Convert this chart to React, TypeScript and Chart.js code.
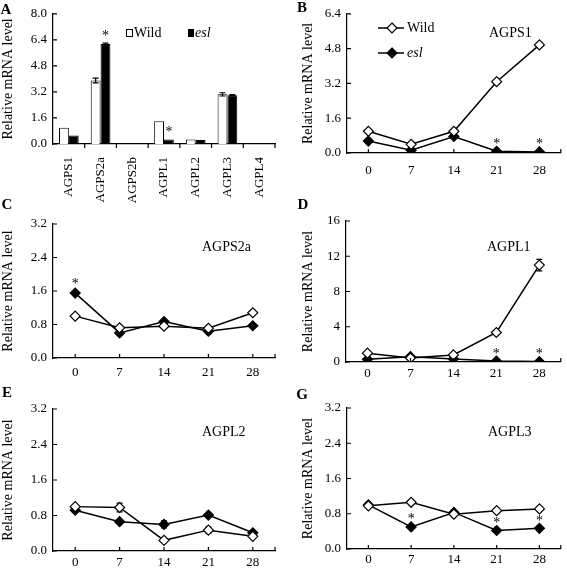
import React, { useEffect, useRef } from "react";
import { Chart, registerables } from "chart.js";
Chart.register(...registerables);

const W = 567;
const H = 569;
const FONT = "'Liberation Serif', 'Times New Roman', serif";

// ---------- Data ----------
// Panel A (bar chart, gene expression)
const genesA = ["AGPS1", "AGPS2a", "AGPS2b", "AGPL1", "AGPL2", "AGPL3", "AGPL4"];
const wildA = [1.0, 3.9, 0, 1.4, 0.28, 3.05, 0];
const eslA = [0.52, 6.15, 0, 0.27, 0.25, 3.0, 0];
const wildErrA = [0, 0.15, 0, 0, 0, 0.1, 0];
const eslErrA = [0, 0.05, 0, 0, 0, 0.03, 0];
const starsA = [1, 3];
const yTicksA = [0, 1.6, 3.2, 4.8, 6.4, 8.0];

// Time course (days)
const days = ["0", "7", "14", "21", "28"];

// Panel B: AGPS1
const wildB = [1.0, 0.4, 1.0, 3.28, 4.97];
const eslB = [0.55, 0.13, 0.76, 0.08, 0.05];
const wildErrB = [0, 0, 0, 0, 0.08];
const eslErrB = [0, 0, 0, 0, 0];
const starsB = [3, 4];
const yTicksB = [0, 1.6, 3.2, 4.8, 6.4];

// Panel C: AGPS2a
const wildC = [1.0, 0.72, 0.76, 0.71, 1.08];
const eslC = [1.55, 0.6, 0.87, 0.64, 0.77];
const wildErrC = [0, 0, 0, 0, 0];
const eslErrC = [0.03, 0, 0, 0.06, 0];
const starsC = [0];
const yTicksC = [0, 0.8, 1.6, 2.4, 3.2];

// Panel D: AGPL1
const wildD = [1.0, 0.45, 0.8, 3.35, 11.0];
const eslD = [0.3, 0.6, 0.35, 0.1, 0.05];
const wildErrD = [0, 0, 0, 0, 0.65];
const eslErrD = [0, 0, 0, 0, 0];
const starsD = [3, 4];
const yTicksD = [0, 4, 8, 12, 16];

// Panel E: AGPL2
const wildE = [1.0, 0.98, 0.24, 0.47, 0.33];
const eslE = [0.92, 0.66, 0.6, 0.81, 0.41];
const wildErrE = [0, 0.1, 0, 0.07, 0.04];
const eslErrE = [0, 0, 0.08, 0.03, 0.02];
const starsE: number[] = [];
const yTicksE = [0, 0.8, 1.6, 2.4, 3.2];

// Panel G: AGPL3
const wildG = [0.98, 1.06, 0.79, 0.87, 0.91];
const eslG = [1.0, 0.5, 0.83, 0.42, 0.47];
const wildErrG = [0, 0, 0, 0.05, 0.02];
const eslErrG = [0, 0, 0, 0, 0];
const starsG = [1, 3, 4];
const yTicksG = [0, 0.8, 1.6, 2.4, 3.2];

// ---------- Layout ----------
type Panel = {
  kind: "bar" | "line";
  letter: string;
  letterPos: [number, number];
  title?: string;
  titlePos?: [number, number];
  legend?: "bar" | "line";
  labels: string[];
  wild: number[];
  esl: number[];
  wildErr: number[];
  eslErr: number[];
  stars: number[];
  yTicks: number[];
  decimals: number;
  padL: number;
  chartL: number;
  chartR: number;
  chartT: number;
  chartB: number;
  xAxisH: number;
  xPad: number;
};

const panels: Panel[] = [
  {
    kind: "bar", letter: "A", letterPos: [6, 10], legend: "bar",
    labels: genesA, wild: wildA, esl: eslA, wildErr: wildErrA, eslErr: eslErrA, stars: starsA,
    yTicks: yTicksA, decimals: 1,
    padL: 0, chartL: 53, chartR: 275, chartT: 13, chartB: 144, xAxisH: 62, xPad: 13,
  },
  {
    kind: "line", letter: "B", letterPos: [302, 8], legend: "line", title: "AGPS1", titlePos: [489, 33],
    labels: days, wild: wildB, esl: eslB, wildErr: wildErrB, eslErr: eslErrB, stars: starsB,
    yTicks: yTicksB, decimals: 1,
    padL: 300, chartL: 347, chartR: 565, chartT: 10, chartB: 153, xAxisH: 35, xPad: 10,
  },
  {
    kind: "line", letter: "C", letterPos: [7, 205], title: "AGPS2a", titlePos: [202, 247],
    labels: days, wild: wildC, esl: eslC, wildErr: wildErrC, eslErr: eslErrC, stars: starsC,
    yTicks: yTicksC, decimals: 1,
    padL: 0, chartL: 53, chartR: 275, chartT: 224, chartB: 358, xAxisH: 32, xPad: 7,
  },
  {
    kind: "line", letter: "D", letterPos: [303, 205], title: "AGPL1", titlePos: [487, 247],
    labels: days, wild: wildD, esl: eslD, wildErr: wildErrD, eslErr: eslErrD, stars: starsD,
    yTicks: yTicksD, decimals: 0,
    padL: 300, chartL: 346, chartR: 565, chartT: 221, chartB: 362, xAxisH: 28, xPad: 4,
  },
  {
    kind: "line", letter: "E", letterPos: [7, 393], title: "AGPL2", titlePos: [202, 432],
    labels: days, wild: wildE, esl: eslE, wildErr: wildErrE, eslErr: eslErrE, stars: starsE,
    yTicks: yTicksE, decimals: 1,
    padL: 0, chartL: 53, chartR: 275, chartT: 409, chartB: 551, xAxisH: 18, xPad: 4,
  },
  {
    kind: "line", letter: "G", letterPos: [302, 395], title: "AGPL3", titlePos: [488, 432],
    labels: days, wild: wildG, esl: eslG, wildErr: wildErrG, eslErr: eslErrG, stars: starsG,
    yTicks: yTicksG, decimals: 1,
    padL: 300, chartL: 347, chartR: 565, chartT: 408, chartB: 549, xAxisH: 20, xPad: 3,
  },
];

function diamond(ctx: CanvasRenderingContext2D, x: number, y: number, r: number, filled: boolean) {
  ctx.beginPath();
  ctx.moveTo(x, y - r);
  ctx.lineTo(x + r, y);
  ctx.lineTo(x, y + r);
  ctx.lineTo(x - r, y);
  ctx.closePath();
  ctx.fillStyle = filled ? "#000" : "#fff";
  ctx.fill();
  ctx.stroke();
}

function makeOverlay(p: Panel) {
  const drawErrors = (chart: any) => {
    const ctx = chart.ctx as CanvasRenderingContext2D;
    const ys = chart.scales.y;
    ctx.save();
    ctx.strokeStyle = "#000";
    ctx.lineWidth = 1.2;
    const series: [number[], number[]][] = [[p.wild, p.wildErr], [p.esl, p.eslErr]];
    series.forEach(([vals, errs], d) => {
      const meta = chart.getDatasetMeta(d);
      vals.forEach((v, i) => {
        const e = errs[i];
        if (!e) return;
        const x = meta.data[i].x;
        const y1 = ys.getPixelForValue(v + e);
        const y2 = ys.getPixelForValue(Math.max(0, v - e));
        ctx.beginPath();
        ctx.moveTo(x, y1); ctx.lineTo(x, y2);
        ctx.moveTo(x - 3, y1); ctx.lineTo(x + 3, y1);
        ctx.moveTo(x - 3, y2); ctx.lineTo(x + 3, y2);
        ctx.stroke();
      });
    });
    ctx.restore();
  };
  return {
    id: "overlay" + p.letter,
    beforeDatasetsDraw(chart: any) {
      if (p.kind === "line") drawErrors(chart);
    },
    afterDatasetsDraw(chart: any) {
      if (p.kind === "bar") drawErrors(chart);
    },
    afterDraw(chart: any) {
      const ctx = chart.ctx as CanvasRenderingContext2D;
      const { left, right, bottom } = chart.chartArea;
      const xs = chart.scales.x;
      const ys = chart.scales.y;
      ctx.save();
      ctx.strokeStyle = "#000";
      ctx.fillStyle = "#000";
      ctx.lineWidth = 1.2;
      // inward tick marks
      ctx.beginPath();
      for (const v of p.yTicks) {
        const y = ys.getPixelForValue(v);
        ctx.moveTo(left, y);
        ctx.lineTo(left + 4, y);
      }
      const n = p.labels.length;
      if (p.kind === "bar") {
        for (let i = 1; i <= n; i++) {
          const x = left + ((right - left) * i) / n;
          ctx.moveTo(x, bottom);
          ctx.lineTo(x, bottom + 4);
        }
      } else {
        for (let i = 0; i < n; i++) {
          const x = xs.getPixelForValue(i);
          ctx.moveTo(x, bottom);
          ctx.lineTo(x, bottom - 4);
        }
        ctx.moveTo(right, bottom);
        ctx.lineTo(right, bottom - 4);
      }
      ctx.stroke();

      // significance stars
      ctx.font = `14px ${FONT}`;
      ctx.textAlign = "center";
      ctx.textBaseline = "alphabetic";
      const meta = chart.getDatasetMeta(1);
      for (const i of p.stars) {
        const x = meta.data[i].x;
        const yTop = ys.getPixelForValue(p.esl[i] + p.eslErr[i]);
        ctx.fillText("*", x, yTop - 10 + 6.5);
      }

      // panel letter
      ctx.font = `bold 15px ${FONT}`;
      ctx.textAlign = "center";
      ctx.textBaseline = "middle";
      ctx.fillText(p.letter, p.letterPos[0], p.letterPos[1]);

      // gene title
      if (p.title && p.titlePos) {
        ctx.font = `14px ${FONT}`;
        ctx.textAlign = "left";
        ctx.fillText(p.title, p.titlePos[0], p.titlePos[1]);
      }

      // legends
      if (p.legend === "bar") {
        ctx.lineWidth = 1;
        ctx.strokeRect(126.5, 29.5, 6, 7);
        ctx.fillRect(188, 29, 6, 8);
        ctx.font = `14px ${FONT}`;
        ctx.textAlign = "left";
        ctx.textBaseline = "middle";
        ctx.fillText("Wild", 134, 33);
        ctx.font = `italic 14px ${FONT}`;
        ctx.fillText("esl", 195, 33);
      } else if (p.legend === "line") {
        ctx.lineWidth = 1.5;
        ctx.beginPath();
        ctx.moveTo(378, 28); ctx.lineTo(404, 28);
        ctx.moveTo(378, 53); ctx.lineTo(404, 53);
        ctx.stroke();
        ctx.lineWidth = 1.2;
        diamond(ctx, 392, 28, 5, false);
        diamond(ctx, 392, 53, 5, true);
        ctx.fillStyle = "#000";
        ctx.font = `14px ${FONT}`;
        ctx.textAlign = "left";
        ctx.textBaseline = "middle";
        ctx.fillText("Wild", 407, 28);
        ctx.font = `italic 14px ${FONT}`;
        ctx.fillText("esl", 407, 53);
      }
      ctx.restore();
    },
  };
}

function buildConfig(p: Panel): any {
  const isBar = p.kind === "bar";
  const rot = isBar ? 90 : 0;
  const datasets = isBar
    ? [
        { label: "Wild", data: p.wild, backgroundColor: "#fff", borderColor: "#000", borderWidth: 1, categoryPercentage: 0.62, barPercentage: 1 },
        { label: "esl", data: p.esl, backgroundColor: "#000", borderColor: "#000", borderWidth: 1, categoryPercentage: 0.62, barPercentage: 1 },
      ]
    : [
        { label: "Wild", data: p.wild, borderColor: "#000", borderWidth: 1.5, tension: 0, pointStyle: "rectRot", pointRadius: 5, pointBackgroundColor: "#fff", pointBorderColor: "#000", pointBorderWidth: 1.2 },
        { label: "esl", data: p.esl, borderColor: "#000", borderWidth: 1.5, tension: 0, pointStyle: "rectRot", pointRadius: 5, pointBackgroundColor: "#000", pointBorderColor: "#000", pointBorderWidth: 1.2 },
      ];
  const last = p.yTicks[p.yTicks.length - 1];
  return {
    type: p.kind,
    data: { labels: p.labels, datasets },
    options: {
      responsive: false,
      animation: false,
      events: [],
      layout: {
        padding: { left: p.padL, top: p.chartT, right: W - p.chartR, bottom: H - p.chartB - p.xAxisH },
      },
      plugins: { legend: { display: false }, tooltip: { enabled: false } },
      scales: {
        x: {
          type: "category",
          offset: true,
          grid: { display: false, drawTicks: false },
          border: { display: true, color: "#000", width: 1.2 },
          ticks: { color: "#000", font: { family: FONT, size: 13 }, padding: p.xPad, autoSkip: false, maxRotation: rot, minRotation: rot },
          afterFit: (s: any) => { s.height = p.xAxisH; },
        },
        y: {
          min: p.yTicks[0],
          max: last,
          grid: { display: false, drawTicks: false },
          border: { display: true, color: "#000", width: 1.2 },
          ticks: {
            color: "#000",
            font: { family: FONT, size: 13 },
            padding: 6,
            callback: (v: any) => Number(v).toFixed(p.decimals),
          },
          afterBuildTicks: (s: any) => { s.ticks = p.yTicks.map((v) => ({ value: v })); },
          afterFit: (s: any) => { s.width = p.chartL - p.padL; },
          title: { display: true, text: "Relative mRNA level", color: "#000", font: { family: FONT, size: 14 }, padding: 0 },
        },
      },
    },
    plugins: [makeOverlay(p)],
  };
}

function PanelChart({ p }: { p: Panel }) {
  const ref = useRef<HTMLCanvasElement | null>(null);
  useEffect(() => {
    if (!ref.current) return;
    const chart = new Chart(ref.current, buildConfig(p));
    return () => chart.destroy();
  }, [p]);
  return (
    <canvas
      ref={ref}
      width={W}
      height={H}
      style={{ position: "absolute", left: 0, top: 0, width: W, height: H }}
    />
  );
}

export default function App() {
  return (
    <div style={{ position: "absolute", left: 0, top: 0, width: W, height: H, background: "#fff", overflow: "hidden" }}>
      {panels.map((p) => (
        <PanelChart key={p.letter} p={p} />
      ))}
    </div>
  );
}
